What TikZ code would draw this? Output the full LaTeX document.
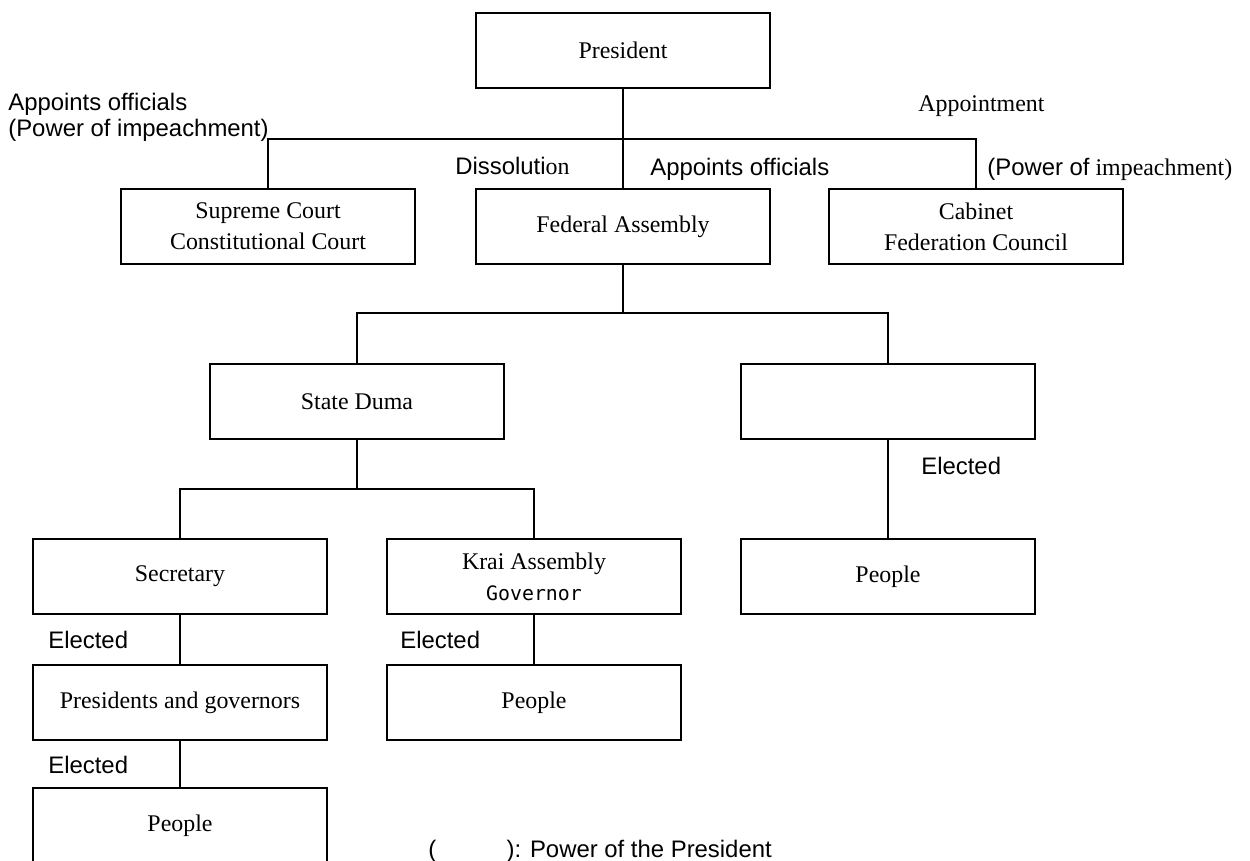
\documentclass[tikz,border=0pt]{standalone}
\usepackage{fontspec}
\setmainfont{Liberation Serif}
\newfontfamily\arialfont{Liberation Sans}
\newfontfamily\gothicfont{DejaVu Sans Mono}
\usepackage{tikz}
\usetikzlibrary{positioning,calc}
\newcommand{\boxfont}{\fontsize{13.6}{17.5}\selectfont}
\newcommand{\tagfont}{\arialfont\fontsize{13.6}{16.5}\selectfont}

\begin{document}
\begin{tikzpicture}[x=0.02cm, y=-0.02cm,
    orgbox/.style={rectangle, draw, line width=0.7pt, minimum width=5.88cm, minimum height=1.5cm,
      inner sep=0pt, align=center, font=\boxfont},
    tag/.style={inner sep=0pt, anchor=base west, font=\tagfont},
    link/.style={line width=0.6pt}
  ]
    \useasboundingbox (0,0) rectangle (1250,861);
    \clip (0,0) rectangle (1250,861);
    % boxes
    \node[orgbox] (pres)    at (623,50.5)  {President};
    \node[orgbox] (court)   at (268,226.5) {Supreme Court\\Constitutional Court};
    \node[orgbox] (fed)     at (623,226.5) {Federal Assembly};
    \node[orgbox] (cab)     at (976,226.5) {Cabinet\\Federation Council};
    \node[orgbox] (duma)    at (357,401.5) {State Duma};
    \node[orgbox] (upper)   at (888,401.5) {};
    \node[orgbox] (secr)    at (180,576.5) {Secretary};
    \node[orgbox] (krai)    at (534,576.5) {Krai Assembly\\{\gothicfont\fontsize{11.3}{17.5}\selectfont Governor}};
    \node[orgbox] (peopleR) at (888,576.5) {People};
    \node[orgbox] (presgov) at (180,702.5) {Presidents and governors};
    \node[orgbox] (peopleM) at (534,702.5) {People};
    \node[orgbox] (peopleL) at (180,825.5) {People};
    % junctions
    \coordinate (bus1) at (623,139);
    \coordinate (bus2) at (623,313);
    \coordinate (bus3) at (357,489);
    % connectors
    \draw[link] (pres.south) -- (fed.north);
    \draw[link] (court.north) |- (bus1) -| (cab.north);
    \draw[link] (fed.south) -- (bus2);
    \draw[link] (duma.north) |- (bus2) -| (upper.north);
    \draw[link] (duma.south) -- (bus3);
    \draw[link] (secr.north) |- (bus3) -| (krai.north);
    \draw[link] (upper) -- (peopleR);
    \draw[link] (secr) -- (presgov);
    \draw[link] (krai) -- (peopleM);
    \draw[link] (presgov) -- (peopleL);
    % labels
    \node[tag] (apptL)   at (8,111)   {Appoints officials};
    \node[tag] (impL)    at (8,137)   {(Power of impeachment)};
    \node[tag, font=\boxfont] (apptR) at (918,112) {Appointment};
    \node[tag] (dissol)  at (455,175) {Dissoluti{\rmfamily on}};
    \node[tag] (apptM)   at (650,176) {Appoints officials};
    \node[tag] (impR)    at (987,176) {(Power of{\rmfamily\ impeachment)}};
    \node[tag] (electR)  at (921,474) {Elected};
    \node[tag] (electL)  at (48,648)  {Elected};
    \node[tag] (electM)  at (400,648) {Elected};
    \node[tag] (electB)  at (48,773)  {Elected};
    \node[tag] (legend)  at (428,857) {(\hspace{40pt}): Power of the President};
  \end{tikzpicture}
\end{document}
